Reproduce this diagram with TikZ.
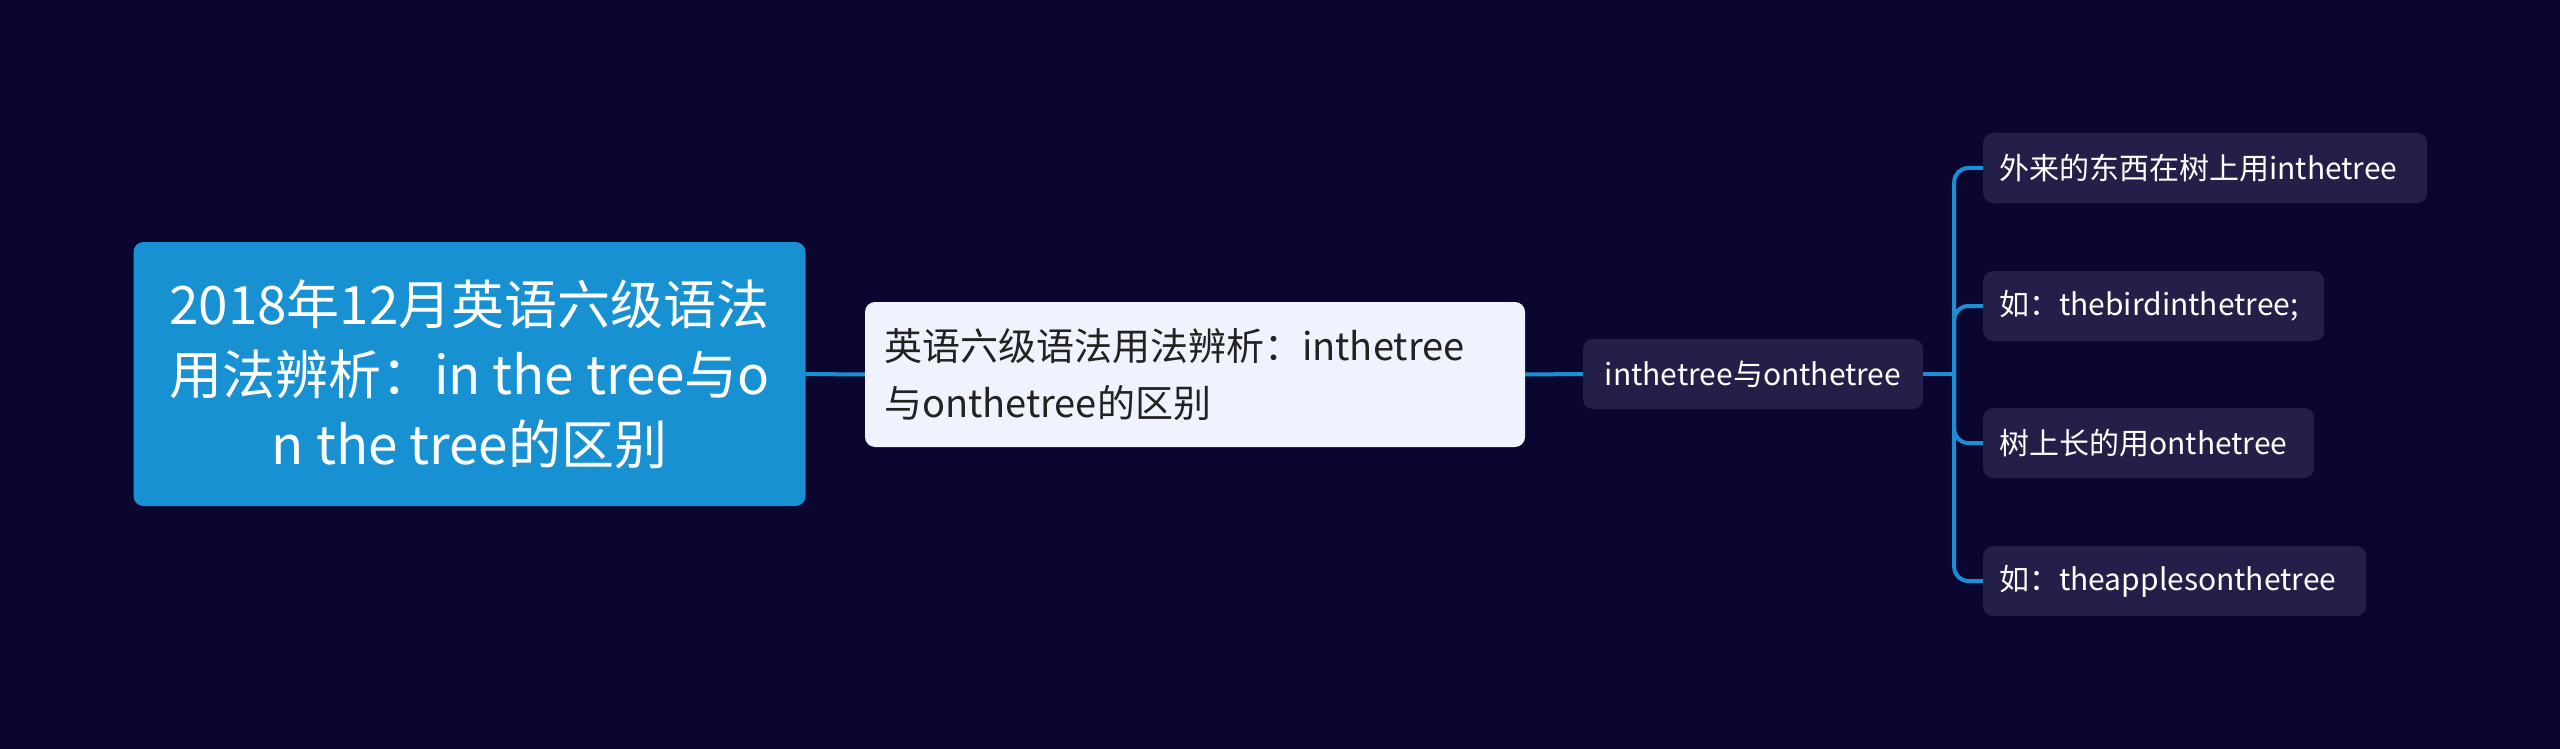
\documentclass[tikz,border=0pt]{standalone}
\usepackage{fontspec}
\setmainfont{Noto Sans CJK SC}
\definecolor{bgc}{HTML}{0A0630}
\definecolor{rootc}{HTML}{1891D3}
\definecolor{secc}{HTML}{EEF3FE}
\definecolor{darkc}{HTML}{231F48}
\definecolor{linec}{HTML}{1B8FD6}
\definecolor{sectext}{HTML}{222222}
\tikzset{
  rootbox/.style={fill=rootc, rounded corners=10pt, text=white, align=center, inner sep=0pt,
    minimum width=672pt, minimum height=264pt, font=\fontsize{53}{70}\selectfont},
  secbox/.style={fill=secc, rounded corners=10pt, text=sectext, align=left, inner xsep=19pt, inner ysep=0pt,
    text width=622pt, minimum height=145pt, font=\fontsize{38}{57}\selectfont},
  midbox/.style={fill=darkc, rounded corners=10pt, text=white, align=center, inner sep=0pt,
    minimum width=340pt, minimum height=70pt, font=\fontsize{30}{36}\selectfont},
  leafbox/.style={fill=darkc, rounded corners=10pt, text=white, align=left, inner xsep=16pt, inner ysep=0pt,
    minimum height=70pt, anchor=west, font=\fontsize{30}{36}\selectfont},
  conn/.style={draw=linec, line width=4pt},
  branch/.style={draw=linec, line width=4pt, rounded corners=14pt}
}
\begin{document}
\begin{tikzpicture}[x=1pt,y=-1pt]
\fill[bgc] (0,0) rectangle (2560,749);
\useasboundingbox (0,0) rectangle (2560,749);
\node[rootbox] (root) at (469.5,374) {2018年12月英语六级语法\\用法辨析：in the tree与o\\n the tree的区别};
\node[secbox] (sec) at (1195,374.5) {英语六级语法用法辨析：inthetree\\与onthetree的区别};
\node[midbox] (mid) at (1753,374) {inthetree与onthetree};
\node[leafbox, text width=412pt] (l1) at (1983,168) {外来的东西在树上用inthetree};
\node[leafbox, text width=309pt] (l2) at (1983,306) {如：thebirdinthetree;};
\node[leafbox, text width=299pt] (l3) at (1983,443) {树上长的用onthetree};
\node[leafbox, text width=351pt] (l4) at (1983,581) {如：theapplesonthetree};
\draw[conn] (root.east) -- (sec.west);
\draw[conn] (sec.east) -- (mid.west);
\coordinate (tr) at ([xshift=31pt]mid.east);
\draw[conn] (mid.east) -- (tr);
\foreach \l in {l1,l2,l3,l4} {
  \draw[branch] (tr) |- (\l.west);
}
\end{tikzpicture}
\end{document}
